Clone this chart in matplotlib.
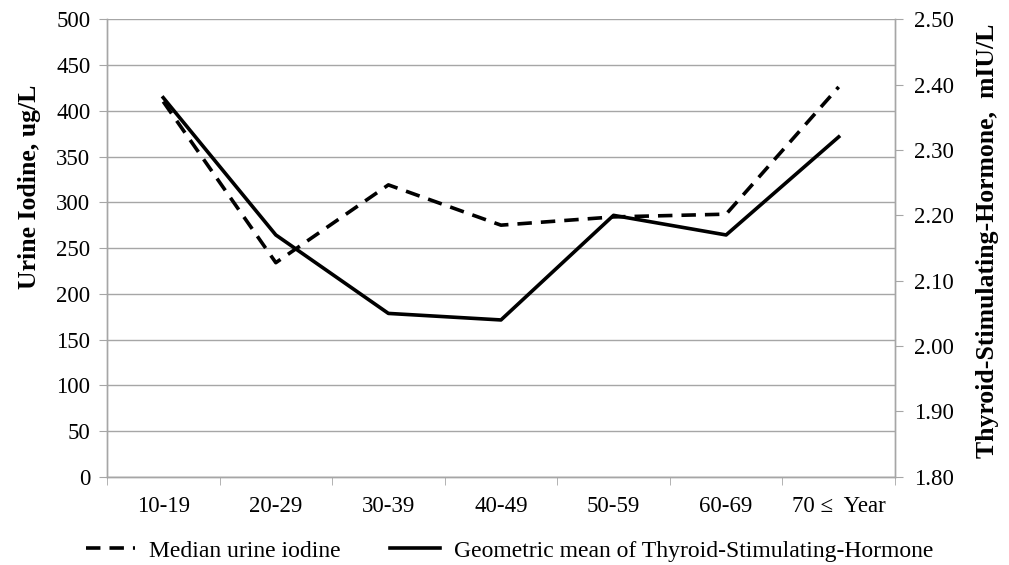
import matplotlib
matplotlib.use("Agg")
import matplotlib.pyplot as plt
from matplotlib.lines import Line2D

categories = ["10-19", "20-29", "30-39", "40-49", "50-59", "60-69", "70 \u2264  Year"]
urine_iodine = [410, 234, 319, 275, 284, 287, 426]
tsh = [2.38, 2.17, 2.05, 2.04, 2.20, 2.17, 2.32]
left_ticks = list(range(0, 501, 50))
right_ticks = [1.80, 1.90, 2.00, 2.10, 2.20, 2.30, 2.40, 2.50]

plt.rcParams['font.family'] = ['Liberation Serif', 'DejaVu Serif']
grey = '#a6a6a6'

fig = plt.figure(figsize=(10.09, 5.65), dpi=100)
ax = fig.add_axes([0.106, 0.156, 0.781, 0.810])
ax2 = ax.twinx()

x = list(range(len(categories)))
ax.plot(x, urine_iodine, color='black', lw=2.6, ls=(0, (4, 2.5)))
ax2.plot(x, tsh, color='black', lw=2.6)

ax.set_xlim(-0.5, len(categories) - 0.5)
ax.set_ylim(0, 500)
ax2.set_ylim(1.80, 2.50)
ax.set_yticks(left_ticks)
ax.set_yticklabels([str(v) for v in left_ticks])
ax2.set_yticks(right_ticks)
ax2.set_yticklabels([f"{v:.2f}" for v in right_ticks])

ax.set_xticks(x)
ax.set_xticklabels(categories)
ax.set_xticks([i - 0.5 for i in range(len(categories) + 1)], minor=True)
ax.tick_params(axis='x', which='major', length=0, pad=14, labelsize=16.5)
ax.tick_params(axis='x', which='minor', length=6, color=grey, direction='out')
ax.tick_params(axis='y', length=6, color=grey, labelsize=16.5, pad=6)
ax2.tick_params(axis='y', length=6, color=grey, labelsize=16.5, pad=8)

ax.grid(axis='y', color=grey, lw=1)
ax.set_axisbelow(True)
for a in (ax, ax2):
    a.spines['top'].set_visible(False)
    for s in ('left', 'right', 'bottom'):
        a.spines[s].set_color(grey)
        a.spines[s].set_linewidth(1)

ax.set_ylabel("Urine Iodine, ug/L", fontsize=18.5, fontweight='bold', va='center', ha='center')
ax.yaxis.set_label_coords(-0.098, 0.633)
ax2.set_ylabel("Thyroid-Stimulating-Hormone,  mIU/L", fontsize=18.5, fontweight='bold',
               va='center', ha='center')
ax2.yaxis.set_label_coords(1.117, 0.515)

handles = [Line2D([], [], color='black', lw=2.6, ls=(0, (4, 2.5))),
           Line2D([], [], color='black', lw=2.6)]
labels = ["Median urine iodine", "Geometric mean of Thyroid-Stimulating-Hormone"]
fig.legend(handles, labels, loc='center', bbox_to_anchor=(0.505, 0.025), ncol=2,
           frameon=False, fontsize=17, handlelength=2.1, columnspacing=2.1,
           handletextpad=0.6, borderpad=0, borderaxespad=0)

fig.savefig("out.png", dpi=100)
